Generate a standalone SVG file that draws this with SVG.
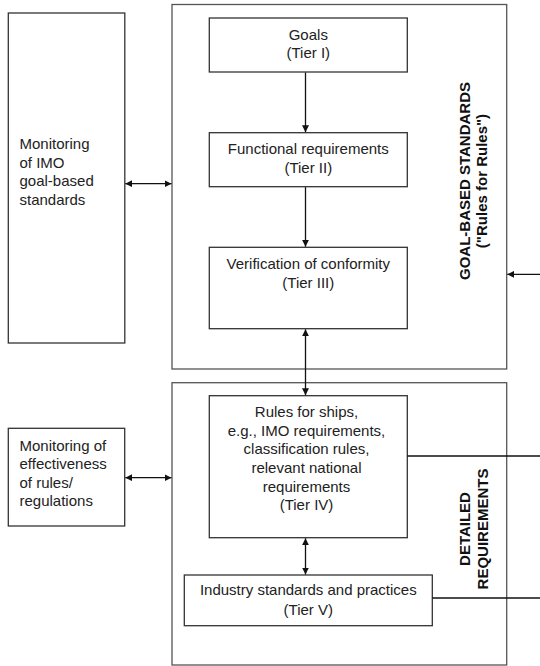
<svg xmlns="http://www.w3.org/2000/svg" width="540" height="666" viewBox="0 0 540 666">
<style>
.box{fill:#fff;stroke:#333;stroke-width:1.3}
.outer{fill:none;stroke:#555;stroke-width:1.3}
.t{font-family:"Liberation Sans",Arial,sans-serif;font-size:15px;fill:#222}
.c{text-anchor:middle}
.b{font-weight:bold;text-anchor:middle;fill:#111}
.ln{stroke:#111;stroke-width:1.3;fill:none}
</style>
<defs>
<marker id="ah" viewBox="0 0 10 10" refX="10" refY="5" markerWidth="7" markerHeight="7" markerUnits="userSpaceOnUse" orient="auto-start-reverse">
<path d="M0,0 L10,5 L0,10 Z" fill="#111"/>
</marker>
</defs>
<rect width="540" height="666" fill="#fff"/>
<g id="gbs-group">
<rect class="outer" x="172" y="4.5" width="334.7" height="364.5"/>
<text class="t b" transform="translate(470,181) rotate(-90)">GOAL-BASED STANDARDS</text>
<text class="t b" transform="translate(487.3,181) rotate(-90)">("Rules for Rules")</text>
</g>
<g id="detailed-group">
<rect class="outer" x="172" y="382.7" width="334.7" height="282.3"/>
<text class="t b" transform="translate(470,529) rotate(-90)">DETAILED</text>
<text class="t b" transform="translate(487.7,529) rotate(-90)">REQUIREMENTS</text>
</g>
<g id="monitor-gbs">
<rect class="box" x="8.3" y="13" width="116.5" height="330"/>
<text class="t" x="19.5" y="149">Monitoring</text>
<text class="t" x="19.5" y="167.5">of IMO</text>
<text class="t" x="19.5" y="186">goal-based</text>
<text class="t" x="19.5" y="204.5">standards</text>
</g>
<g id="monitor-eff">
<rect class="box" x="8.3" y="428.3" width="116.4" height="97.7"/>
<text class="t" x="19.5" y="450.7">Monitoring of</text>
<text class="t" x="19.5" y="469.2">effectiveness</text>
<text class="t" x="19.5" y="487.7">of rules/</text>
<text class="t" x="19.5" y="506.2">regulations</text>
</g>
<g id="tier1">
<rect class="box" x="209.3" y="18" width="198" height="54"/>
<text class="t c" x="308.3" y="39.5">Goals</text>
<text class="t c" x="308.3" y="58">(Tier I)</text>
</g>
<g id="tier2">
<rect class="box" x="209.3" y="132.7" width="198" height="54"/>
<text class="t c" x="308.3" y="154">Functional requirements</text>
<text class="t c" x="308.3" y="173.3">(Tier II)</text>
</g>
<g id="tier3">
<rect class="box" x="209.3" y="247.3" width="198" height="81.4"/>
<text class="t c" x="308.3" y="268.5">Verification of conformity</text>
<text class="t c" x="308.3" y="288">(Tier III)</text>
</g>
<g id="tier4">
<rect class="box" x="209.3" y="395.7" width="198" height="142"/>
<text class="t c" x="306.5" y="416.7">Rules for ships,</text>
<text class="t c" x="306.5" y="435.5">e.g., IMO requirements,</text>
<text class="t c" x="306.5" y="454.3">classification rules,</text>
<text class="t c" x="306.5" y="473">relevant national</text>
<text class="t c" x="306.5" y="491.7">requirements</text>
<text class="t c" x="306.5" y="510.3">(Tier IV)</text>
</g>
<g id="tier5">
<rect class="box" x="184.3" y="575" width="248" height="50.7"/>
<text class="t c" x="308.3" y="595">Industry standards and practices</text>
<text class="t c" x="308.3" y="615">(Tier V)</text>
</g>
<g id="connectors">
<line class="ln" x1="305.5" y1="72.5" x2="305.5" y2="132.2" marker-end="url(#ah)"/>
<line class="ln" x1="305.5" y1="187.2" x2="305.5" y2="246.8" marker-end="url(#ah)"/>
<line class="ln" x1="305.5" y1="329.3" x2="305.5" y2="395.2" marker-start="url(#ah)" marker-end="url(#ah)"/>
<line class="ln" x1="305.5" y1="538.3" x2="305.5" y2="574.5" marker-start="url(#ah)" marker-end="url(#ah)"/>
<line class="ln" x1="125.3" y1="183.7" x2="171.5" y2="183.7" marker-start="url(#ah)" marker-end="url(#ah)"/>
<line class="ln" x1="125.3" y1="477.7" x2="171.5" y2="477.7" marker-start="url(#ah)" marker-end="url(#ah)"/>
<line class="ln" x1="540" y1="274.3" x2="507.3" y2="274.3" marker-end="url(#ah)"/>
<line class="ln" x1="407.3" y1="456" x2="540" y2="456"/>
<line class="ln" x1="432.3" y1="598" x2="540" y2="598"/>
</g>
</svg>
